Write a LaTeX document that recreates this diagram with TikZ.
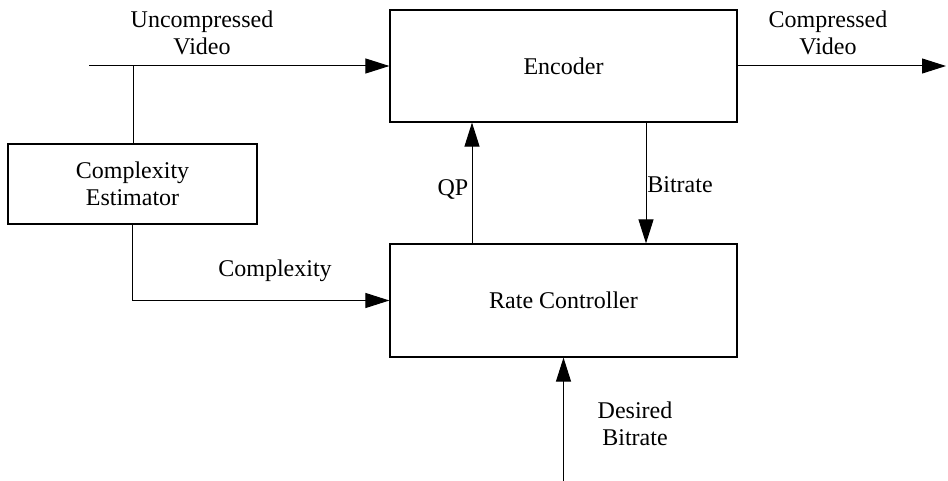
\documentclass[tikz,border=0pt]{standalone}
\usepackage{fontspec}
\setmainfont{Liberation Serif}
\usetikzlibrary{arrows.meta}

\tikzset{
  block/.style={draw, line width=0.6pt, inner sep=0pt, align=center},
  lbl/.style={align=center, inner sep=0pt},
  arr/.style={-{Triangle[length=12pt,width=7.5pt]}},
}

\begin{document}
\begin{tikzpicture}[x=0.5pt,y=-0.5pt,line width=0.5pt,
    font=\fontsize{12}{13.5}\selectfont]
            \useasboundingbox (0,0) rectangle (948,481);
            % boxes
            \node[block, minimum width=173.5pt, minimum height=56pt] (enc) at (563.5,66) {Encoder};
            \node[block, minimum width=173.5pt, minimum height=56.5pt] (rc) at (563.5,300.5) {Rate Controller};
            \node[block, minimum width=124.5pt, minimum height=40pt] (est) at (132.5,184) {Complexity\\Estimator};
            % free ends
            \coordinate (in) at (89,66);
            \coordinate (br) at (133,66);
            \coordinate (out) at (946,66);
            \coordinate (qp) at (472,0);
            \coordinate (bt) at (646,0);
            \coordinate (des) at (563.5,481);
            % connectors
            \draw[arr] (in) -- (enc.west);
            \draw (br) -- (br |- est.north);
            \draw[arr] (est.south) |- (rc.west);
            \draw[arr] (qp |- rc.north) -- (qp |- enc.south);
            \draw[arr] (bt |- enc.south) -- (bt |- rc.north);
            \draw[arr] (des) -- (rc.south);
            \draw[arr] (enc.east) -- (out);
            % labels
            \node[lbl] (uvid) at (202,33) {Uncompressed\\Video};
            \node[lbl] (cvid) at (828,33) {Compressed\\Video};
            \node[lbl] (cplx) at (275,271) {Complexity};
            \node[lbl] (qplbl) at (453,190) {QP};
            \node[lbl] (btlbl) at (680,185) {Bitrate};
            \node[lbl] (deslbl) at (635,424) {Desired\\Bitrate};
        \end{tikzpicture}
\end{document}
